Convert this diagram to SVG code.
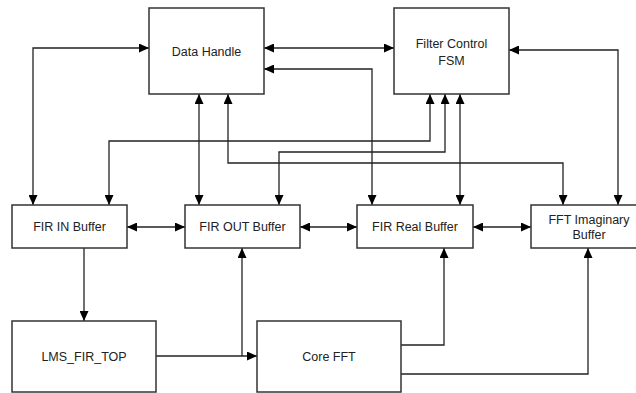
<svg xmlns="http://www.w3.org/2000/svg" width="636" height="393" viewBox="0 0 636 393">
<style>
.box{fill:#fff;stroke:#333;stroke-width:1.5}
.lbl{font-family:"Liberation Sans",Arial,sans-serif;font-size:12.5px;fill:#222;text-anchor:middle}
.c{fill:none;stroke:#222;stroke-width:1.3}
.bi{marker-start:url(#ah);marker-end:url(#ah)}
.one{marker-end:url(#ah)}
</style>
<defs>
<marker id="ah" markerUnits="userSpaceOnUse" markerWidth="10" markerHeight="9" refX="10" refY="4.5" orient="auto-start-reverse">
<path d="M0,0 L10,4.5 L0,9 z" fill="#000"/>
</marker>
</defs>
<rect width="636" height="393" fill="#fff"/>
<g id="connectors">
<path class="c bi" d="M33,205 V48 H149"/>
<path class="c bi" d="M264,48 H394"/>
<path class="c bi" d="M264,69 H372 V205"/>
<path class="c bi" d="M199,94 V205"/>
<path class="c bi" d="M228,94 V163 H563 V205"/>
<path class="c bi" d="M109,205 V141 H430 V94"/>
<path class="c bi" d="M279,205 V152 H445 V94"/>
<path class="c bi" d="M460,94 V205"/>
<path class="c bi" d="M509,50 H618 V205"/>
<path class="c bi" d="M127,227 H185"/>
<path class="c bi" d="M300,227 H357"/>
<path class="c bi" d="M473,227 H531"/>
<path class="c one" d="M84,248 V321"/>
<path class="c one" d="M156,356 H257"/>
<path class="c one" d="M242,356 V248"/>
<path class="c one" d="M401,345 H444 V248"/>
<path class="c one" d="M401,374 H588 V248"/>
</g>
<g id="data-handle">
<rect class="box" x="149" y="8" width="115" height="86"/>
<text class="lbl" x="206.5" y="56">Data Handle</text>
</g>
<g id="filter-control-fsm">
<rect class="box" x="394" y="8" width="115" height="86"/>
<text class="lbl" x="451.5" y="47.5">Filter Control</text>
<text class="lbl" x="451.5" y="65">FSM</text>
</g>
<g id="fir-in-buffer">
<rect class="box" x="12" y="205" width="115" height="43"/>
<text class="lbl" x="69.5" y="231">FIR IN Buffer</text>
</g>
<g id="fir-out-buffer">
<rect class="box" x="185" y="205" width="115" height="43"/>
<text class="lbl" x="242.5" y="231">FIR OUT Buffer</text>
</g>
<g id="fir-real-buffer">
<rect class="box" x="357" y="205" width="116" height="43"/>
<text class="lbl" x="415" y="231">FIR Real Buffer</text>
</g>
<g id="fft-imaginary-buffer">
<rect class="box" x="531" y="205" width="116" height="43"/>
<text class="lbl" x="589" y="223.5">FFT Imaginary</text>
<text class="lbl" x="589" y="238.5">Buffer</text>
</g>
<g id="lms-fir-top">
<rect class="box" x="12" y="321" width="144" height="71"/>
<text class="lbl" x="84" y="360.5">LMS_FIR_TOP</text>
</g>
<g id="core-fft">
<rect class="box" x="257" y="321" width="144" height="71"/>
<text class="lbl" x="329" y="360.5">Core FFT</text>
</g>
</svg>
